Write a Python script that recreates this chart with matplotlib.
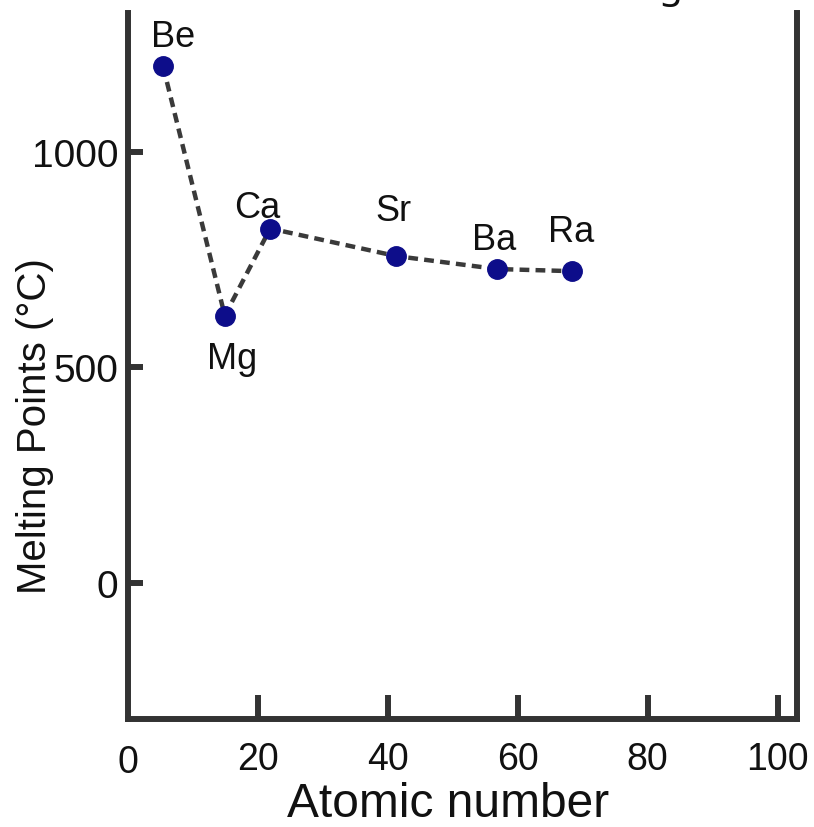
import matplotlib
matplotlib.use("Agg")
import matplotlib.pyplot as plt

elements = ["Be", "Mg", "Ca", "Sr", "Ba", "Ra"]
atomic_number = [5.4, 14.9, 21.9, 41.3, 56.8, 68.4]
melting_point = [1198, 620, 822, 758, 728, 723]
x_ticks = [20, 40, 60, 80, 100]
y_ticks = [0, 500, 1000]

# label offsets in points (dx, dy) and vertical alignment
label_offsets = [(7, 9), (5, -18), (-9, 2.5), (-2, 20), (-2, 9), (-1, 16)]
label_va = ["bottom", "top", "bottom", "bottom", "bottom", "bottom"]

W, H = 814, 828
fig = plt.figure(figsize=(W / 100, H / 100), dpi=100)
left, right, bottom, top = 128 / W, 797 / W, (H - 720) / H, (H - 14) / H
ax = fig.add_axes([left, bottom, right - left, top - bottom])

font = "Liberation Sans"
spine_col = "#333333"

ax.plot(atomic_number, melting_point, linestyle=(0, (2.2, 1.4)), color="#3a3a3a",
        linewidth=3.2, marker="o", markersize=14, markerfacecolor="#0d0d8a",
        markeredgecolor="#0d0d8a", zorder=3)

for name, xv, yv, off, va in zip(elements, atomic_number, melting_point, label_offsets, label_va):
    ax.annotate(name, (xv, yv), xytext=off, textcoords="offset points",
                ha="center", va=va, fontsize=26, family=font, color="#111111")

ax.set_xlim(0, 103)
ax.set_ylim(-316, 1322)
ax.set_xticks(x_ticks)
ax.set_xticklabels([str(v) for v in x_ticks])
ax.set_yticks(y_ticks)
ax.set_yticklabels([str(v) for v in y_ticks])

for s in ["left", "bottom", "right"]:
    ax.spines[s].set_linewidth(4.3)
    ax.spines[s].set_color(spine_col)
ax.spines["top"].set_visible(False)

ax.tick_params(axis="x", direction="in", length=17, width=4.3, color=spine_col,
               pad=16, labelsize=27, labelcolor="#111111")
ax.tick_params(axis="y", direction="in", length=10.5, width=4.3, color=spine_col,
               pad=7, labelsize=28, labelcolor="#111111")
for lbl in ax.get_xticklabels() + ax.get_yticklabels():
    lbl.set_family(font)

# the "0" x tick label sits under the spine corner
ax.text(0, -0.035, "0", transform=ax.get_xaxis_transform(), ha="center", va="top",
        fontsize=27, family=font, color="#111111")

ax.set_xlabel("Atomic number", fontsize=34.5, family=font, color="#111111", va="top")
ax.xaxis.set_label_coords(0.478, -0.088)
ax.set_ylabel("Melting Points (°C)", fontsize=29, family=font, color="#111111")
ax.yaxis.set_label_coords(-0.11, 0.416)

fig.text(683 / W, 1 + 2 / H, "Melting", ha="right", va="baseline",
         fontsize=28, family="Noto Sans", color="#111111")

fig.savefig("out.png", dpi=100)
